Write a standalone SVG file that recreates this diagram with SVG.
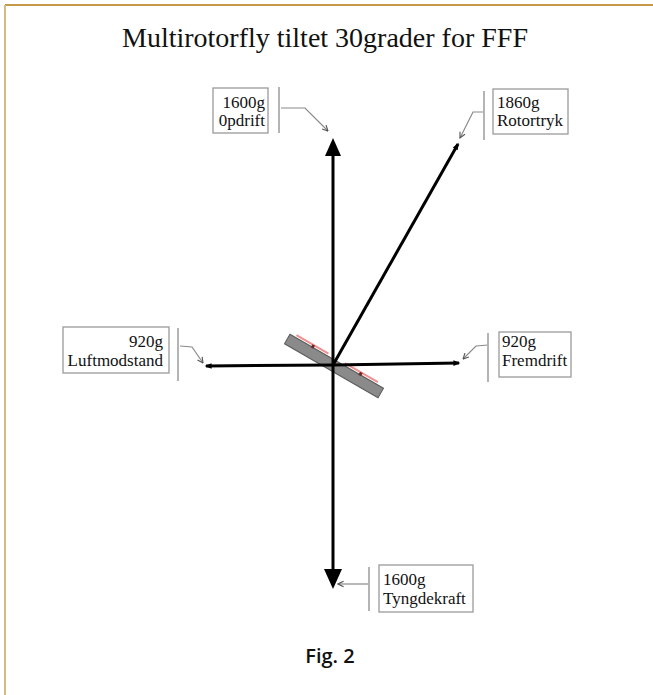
<svg xmlns="http://www.w3.org/2000/svg" width="653" height="695" viewBox="0 0 653 695">
<defs>
<style>
.lbl{font-family:"Liberation Serif","Times New Roman",serif;font-size:17px;fill:#111}
.box{fill:#fff;stroke:#9a9a9a;stroke-width:1.3}
.brk{stroke:#b4b4b4;stroke-width:2;fill:none}
.con{stroke:#8a8a8a;stroke-width:1.2;fill:none;marker-end:url(#open)}
.force{stroke:#000;stroke-width:3;fill:none}
</style>
<marker id="open" viewBox="0 0 10 10" refX="9" refY="5" markerWidth="7" markerHeight="7" markerUnits="userSpaceOnUse" orient="auto">
<path d="M1,1 L9,5 L1,9" fill="none" stroke="#555" stroke-width="1.6"/>
</marker>
<marker id="tip" viewBox="0 0 10 10" refX="8" refY="5" markerWidth="8" markerHeight="7" markerUnits="userSpaceOnUse" orient="auto">
<path d="M0,1 L10,5 L0,9 Z" fill="#000"/>
</marker>
</defs>
<rect width="653" height="695" fill="#fff"/>
<line x1="5" y1="5" x2="653" y2="5" stroke="#c49a4a" stroke-width="2"/>
<line x1="5" y1="5" x2="5" y2="695" stroke="#d2bd85" stroke-width="2"/>
<text x="325" y="47" text-anchor="middle" font-family="Liberation Serif, serif" font-size="28" fill="#111">Multirotorfly tiltet 30grader for FFF</text>

<g id="plate" transform="translate(334,366) rotate(30)">
<rect x="-54" y="-5.5" width="108" height="11" fill="#8a8a8a" stroke="#5a5a5a" stroke-width="1"/>
<line x1="-48" y1="-8" x2="-11" y2="-8" stroke="#f09090" stroke-width="2"/>
<line x1="8" y1="-8" x2="46" y2="-8" stroke="#f09090" stroke-width="2"/>
<rect x="-29.5" y="-8" width="3" height="3.5" fill="#6a2a2a"/>
<rect x="25.5" y="-8" width="3" height="3.5" fill="#6a2a2a"/>
</g>

<g id="connectors">
<line class="force" x1="333" y1="150" x2="333" y2="572"/>
<polygon points="333,138 325,156 341,156" fill="#000"/>
<polygon points="324,569 342,569 333,589" fill="#000"/>
<line class="force" x1="333" y1="365" x2="458" y2="144" marker-end="url(#tip)"/>
<line class="force" x1="333" y1="365" x2="206" y2="366" marker-end="url(#tip)"/>
<line class="force" x1="333" y1="365" x2="459" y2="363" marker-end="url(#tip)"/>
<polyline class="con" points="281,108 305,108 328,131"/>
<polyline class="con" points="483,112 473,112 460,138"/>
<polyline class="con" points="180,346 192,347 203,363"/>
<polyline class="con" points="488,345 476,346 463,359"/>
<polyline class="con" points="369,584 338,584"/>
</g>

<g id="opdrift">
<rect class="box" x="213" y="88" width="55" height="45"/>
<text class="lbl" x="265" y="108" text-anchor="end">1600g</text>
<text class="lbl" x="265" y="126" text-anchor="end">0pdrift</text>
<line class="brk" x1="279" y1="87" x2="279" y2="133"/>
</g>

<g id="rotortryk">
<rect class="box" x="493" y="89" width="75" height="45"/>
<text class="lbl" x="497" y="108">1860g</text>
<text class="lbl" x="497" y="126">Rotortryk</text>
<line class="brk" x1="484" y1="91" x2="484" y2="140"/>
</g>

<g id="luftmodstand">
<rect class="box" x="63" y="327" width="106" height="46"/>
<text class="lbl" x="163" y="347" text-anchor="end">920g</text>
<text class="lbl" x="163" y="366" text-anchor="end">Luftmodstand</text>
<line class="brk" x1="178" y1="328" x2="178" y2="381"/>
</g>

<g id="fremdrift">
<rect class="box" x="499" y="332" width="72" height="45"/>
<text class="lbl" x="502" y="347">920g</text>
<text class="lbl" x="502" y="366">Fremdrift</text>
<line class="brk" x1="488" y1="333" x2="488" y2="382"/>
</g>

<g id="tyngdekraft">
<rect class="box" x="379" y="565" width="94" height="47"/>
<text class="lbl" x="383" y="585">1600g</text>
<text class="lbl" x="383" y="604">Tyngdekraft</text>
<line class="brk" x1="369" y1="567" x2="369" y2="611"/>
</g>

<text x="330" y="663" text-anchor="middle" font-family="Open Sans, sans-serif" font-weight="600" font-size="20" fill="#111">Fig. 2</text>
</svg>
